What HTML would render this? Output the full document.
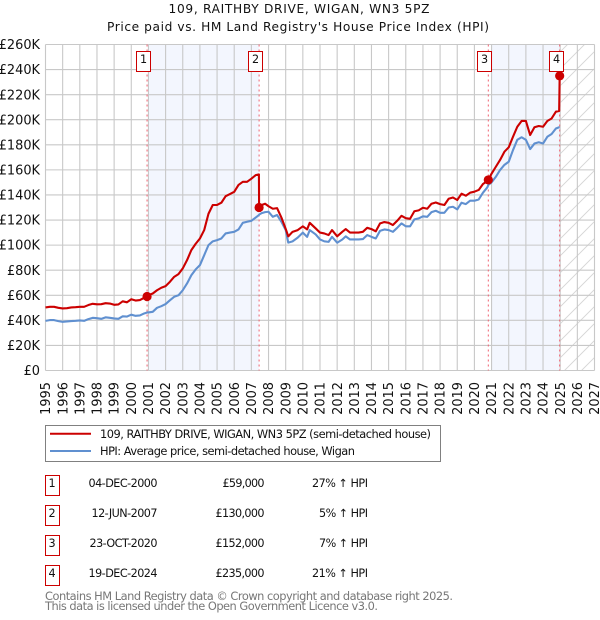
<!DOCTYPE html>
<html>
<head>
<meta charset="utf-8">
<title>109, RAITHBY DRIVE, WIGAN, WN3 5PZ</title>
<style>
html,body{margin:0;padding:0;background:#fff;}
svg{display:block;}
text{font-family:"DejaVu Sans","Liberation Sans",sans-serif;fill:#111;}
</style>
</head>
<body>
<svg id="chart" xmlns="http://www.w3.org/2000/svg" width="600" height="620" viewBox="0 0 600 620">
<defs>
<pattern id="hatch" patternUnits="userSpaceOnUse" width="17" height="17">
<path d="M-2 19L19 -2M-2 2L2 -2M15 19L19 15" stroke="#d4d4d4" stroke-width="0.9" fill="none"/>
</pattern>
</defs>
<text x="299" y="13" text-anchor="middle" font-size="12.2" textLength="261">109, RAITHBY DRIVE, WIGAN, WN3 5PZ</text>
<text x="298" y="31" text-anchor="middle" font-size="12.2" textLength="382">Price paid vs. HM Land Registry's House Price Index (HPI)</text>
<g id="bands"></g>
<g id="grid"></g>
<g id="yticks"></g>
<g id="xticks"></g>
<g id="sales"></g>
<g id="series"></g>
<g id="markers"></g>

<g>
<rect x="45.5" y="425.5" width="395" height="36" fill="#fff" stroke="#808080" stroke-width="1"/>
<line x1="50" x2="91" y1="433.7" y2="433.7" stroke="#cc0000" stroke-width="2"/>
<text x="100" y="438" font-size="11.4" textLength="331">109, RAITHBY DRIVE, WIGAN, WN3 5PZ (semi-detached house)</text>
<line x1="50" x2="91" y1="451" y2="451" stroke="#6090d0" stroke-width="2"/>
<text x="100" y="455" font-size="11.4" textLength="255">HPI: Average price, semi-detached house, Wigan</text>
</g>

<g font-size="11.2">
<g>
<rect x="45.5" y="475.5" width="14" height="20" fill="#fff" stroke="#cc0000"/>
<text x="52" y="487" text-anchor="middle">1</text>
<text x="157.5" y="487" text-anchor="end" textLength="69">04-DEC-2000</text>
<text x="264.5" y="487" text-anchor="end" textLength="42">£59,000</text>
<text x="368" y="487" text-anchor="end" textLength="56">27% ↑ HPI</text>
</g>
<g>
<rect x="45.5" y="505.5" width="14" height="20" fill="#fff" stroke="#cc0000"/>
<text x="52" y="517" text-anchor="middle">2</text>
<text x="157.5" y="517" text-anchor="end" textLength="66">12-JUN-2007</text>
<text x="264.5" y="517" text-anchor="end" textLength="49">£130,000</text>
<text x="368" y="517" text-anchor="end" textLength="49">5% ↑ HPI</text>
</g>
<g>
<rect x="45.5" y="535.5" width="14" height="20" fill="#fff" stroke="#cc0000"/>
<text x="52" y="547" text-anchor="middle">3</text>
<text x="157.5" y="547" text-anchor="end" textLength="68">23-OCT-2020</text>
<text x="264.5" y="547" text-anchor="end" textLength="49">£152,000</text>
<text x="368" y="547" text-anchor="end" textLength="49">7% ↑ HPI</text>
</g>
<g>
<rect x="45.5" y="565.5" width="14" height="20" fill="#fff" stroke="#cc0000"/>
<text x="52" y="577" text-anchor="middle">4</text>
<text x="157.5" y="577" text-anchor="end" textLength="69">19-DEC-2024</text>
<text x="264.5" y="577" text-anchor="end" textLength="49">£235,000</text>
<text x="368" y="577" text-anchor="end" textLength="56">21% ↑ HPI</text>
</g>
</g>

<text x="45" y="600" font-size="11.4" style="fill:#777" textLength="408">Contains HM Land Registry data © Crown copyright and database right 2025.</text>
<text x="45" y="610" font-size="11.4" style="fill:#777" textLength="333">This data is licensed under the Open Government Licence v3.0.</text>
</svg>

<script>
var yearTicks = [1995,1996,1997,1998,1999,2000,2001,2002,2003,2004,2005,2006,2007,2008,2009,2010,2011,2012,2013,2014,2015,2016,2017,2018,2019,2020,2021,2022,2023,2024,2025,2026,2027];
var valueTicks = [0,20,40,60,80,100,120,140,160,180,200,220,240,260];
var valueTickLabels = ["£0","£20K","£40K","£60K","£80K","£100K","£120K","£140K","£160K","£180K","£200K","£220K","£240K","£260K"];

var dates = [
1995,1995.25,1995.5,1995.75,
1996,1996.25,1996.5,1996.75,
1997,1997.25,1997.5,1997.75,
1998,1998.25,1998.5,1998.75,
1999,1999.25,1999.5,1999.75,
2000,2000.25,2000.5,2000.75,2000.92,
2001,2001.25,2001.5,2001.75,
2002,2002.25,2002.5,2002.75,
2003,2003.25,2003.5,2003.75,
2004,2004.25,2004.5,2004.75,
2005,2005.25,2005.5,2005.75,
2006,2006.25,2006.5,2006.75,
2007,2007.25,2007.44,2007.45,2007.6,2007.8,
2008,2008.25,2008.5,2008.75,
2009,2009.15,2009.4,2009.7,
2010,2010.25,2010.4,2010.75,
2011,2011.25,2011.5,2011.7,
2012,2012.3,2012.5,2012.75,
2013,2013.25,2013.5,2013.75,
2014,2014.25,2014.5,2014.75,
2015,2015.25,2015.5,2015.75,
2016,2016.25,2016.5,2016.75,
2017,2017.25,2017.5,2017.75,
2018,2018.25,2018.5,2018.75,
2019,2019.25,2019.5,2019.75,
2020,2020.25,2020.5,2020.75,2020.81,
2021,2021.25,2021.5,2021.75,
2022,2022.25,2022.5,2022.75,
2023,2023.25,2023.5,2023.75,
2024,2024.25,2024.5,2024.75,2024.94,2024.97
];
var priceValues = [
50.3,50.8,50.8,50,
49.5,49.7,50.3,50.5,
50.8,50.8,52.2,53.2,
52.8,52.9,53.7,53.4,
52.4,52.7,55.2,54.4,
56.8,55.8,56.2,58,59,
60,61.4,64,66,
67.3,70.7,74.7,76.9,
81.4,88,96,101,
105.3,112,125,132,
132,133.8,139,140.7,
142.5,148,150.5,150.5,
153,155.8,156.4,130,132,133,
131,129,129.5,122,
113,107,110.6,112,
115,112.5,117.8,113.3,
110,109.3,108,112,
107,110.6,112.8,110,
110,110,110.6,113.8,
112.8,111,117.3,118.4,
117.8,116,119.4,123.4,
121.5,121,127,127.7,
129.8,129,133,134,
132.7,132,137,138,
136,141,139.4,141.8,
142.6,144,148.7,151,152,
157,162.5,168,174.5,
178,186.4,194.4,199,
199,187.8,194,195,
194.4,199,201,206.4,207,235
];
var hpiValues = [
39.6,40.2,40.2,39.4,
38.8,39.1,39.4,39.6,
39.9,39.6,41,42,
41.7,41.2,42.4,42,
41.5,41.2,43.2,43,
44.5,43.6,43.9,45.5,46.3,
46.3,46.8,50,51.3,
53,56,58.8,60,
64,69.4,76,80.6,
84,92,100,103,
104,105.3,109.3,110,
110.6,112.5,117.8,118.6,
119.4,122,124,124.3,125.5,126.3,
126.6,122.6,124,118.6,
112,102,103,106,
110,106.6,112,108.5,
104.5,103,102.6,106.6,
101.9,104.5,107,104.5,
104.5,104.5,104.8,108,
106.6,105.3,111.4,112.5,
112,110.6,113.8,117.3,
115,115,120.5,121.3,
123,122.6,126.3,127.4,
125.8,125.8,130,130.6,
128.5,133.8,132.7,135.4,
135.4,136.4,141.8,146,148,
150,154.5,160,164,
166.5,175.8,184,186,
184,176.6,181,182,
181,186.4,188.6,193,194,194
];
var saleDates = [2000.92,2007.45,2020.81,2024.97];
var salePrices = [59,130,152,235];
var saleLabels = ["1","2","3","4"];
var bandStarts = [2001,2021];
var bandEnds = [2007.45,2024.97];
var forecastStart = 2024.97;

var NS = "http://www.w3.org/2000/svg";
var LEFT = 45.5, RIGHT = 594.5, TOP = 44.5, BOTTOM = 370.5;
function x(year){ return LEFT + (year - 1995) * (RIGHT - LEFT) / (2027 - 1995); }
function y(v){ return BOTTOM - v * (BOTTOM - TOP) / 260; }
function el(tag, attrs, parent){
  var n = document.createElementNS(NS, tag);
  for (var k in attrs) n.setAttribute(k, attrs[k]);
  parent.appendChild(n);
  return n;
}
function pathFrom(xs, ys){
  var d = "";
  for (var i = 0; i < xs.length; i++) d += (i ? "L" : "M") + x(xs[i]).toFixed(2) + " " + y(ys[i]).toFixed(2);
  return d;
}
var bands = document.getElementById("bands");
var grid = document.getElementById("grid");
var yticks = document.getElementById("yticks");
var xticks = document.getElementById("xticks");
var sales = document.getElementById("sales");
var series = document.getElementById("series");
var markers = document.getElementById("markers");

bandStarts.forEach(function(s, i){
  var b = el("rect", {x:x(s), y:TOP, width:x(bandEnds[i]) - x(s), height:BOTTOM - TOP, fill:"#f3f6fe"}, bands);
  
  
});
var hatch = el("rect", {x:x(forecastStart) + 1, y:TOP, width:RIGHT - x(forecastStart) - 1, height:BOTTOM - TOP, fill:"url(#hatch)"}, bands);



yearTicks.forEach(function(t){
  var gl = el("line", {x1:x(t), x2:x(t), y1:TOP, y2:BOTTOM, stroke:"#c8c8c8", "stroke-width":1.1}, grid);
  
  
  var lb = el("text", {"text-anchor":"end", "font-size":12.9, transform:"translate(" + (x(t) + 4.6) + ",382) rotate(-90)"}, xticks);
  lb.textContent = String(t);
  
  
});
valueTicks.forEach(function(v, i){
  var gl = el("line", {x1:LEFT, x2:RIGHT, y1:y(v), y2:y(v), stroke:"#c8c8c8", "stroke-width":1.1}, grid);
  
  
  var lb = el("text", {x:40, y:y(v) + 4.6, "text-anchor":"end", "font-size":12.9}, yticks);
  lb.textContent = valueTickLabels[i];
  
  
});
saleDates.forEach(function(d){
  var ln = el("line", {x1:x(d), x2:x(d), y1:TOP, y2:BOTTOM, stroke:"#f06070", "stroke-width":1, "stroke-dasharray":"2 3"}, sales);
  
  
});
var hpiLine = el("path", {d:pathFrom(dates, hpiValues), fill:"none", stroke:"#6090d0", "stroke-width":2.1, "stroke-linejoin":"round"}, series);


var priceLine = el("path", {d:pathFrom(dates, priceValues), fill:"none", stroke:"#cc0000", "stroke-width":2.1, "stroke-linejoin":"round"}, series);



saleDates.forEach(function(d, i){
  var box = el("rect", {x:Math.round(x(d)) - 10.5, y:51.5, width:14, height:20, fill:"#fff", stroke:"#cc0000"}, markers);
  
  
  var t = el("text", {x:Math.round(x(d)) - 3.5, y:63, "text-anchor":"middle", "font-size":11.2}, markers);
  t.textContent = saleLabels[i];
  
  
});
saleDates.forEach(function(d, i){
  var c = el("circle", {cx:x(d), cy:y(salePrices[i]), r:4.6, fill:"#cc0000"}, markers);
  
  
});
</script>
</body>
</html>
